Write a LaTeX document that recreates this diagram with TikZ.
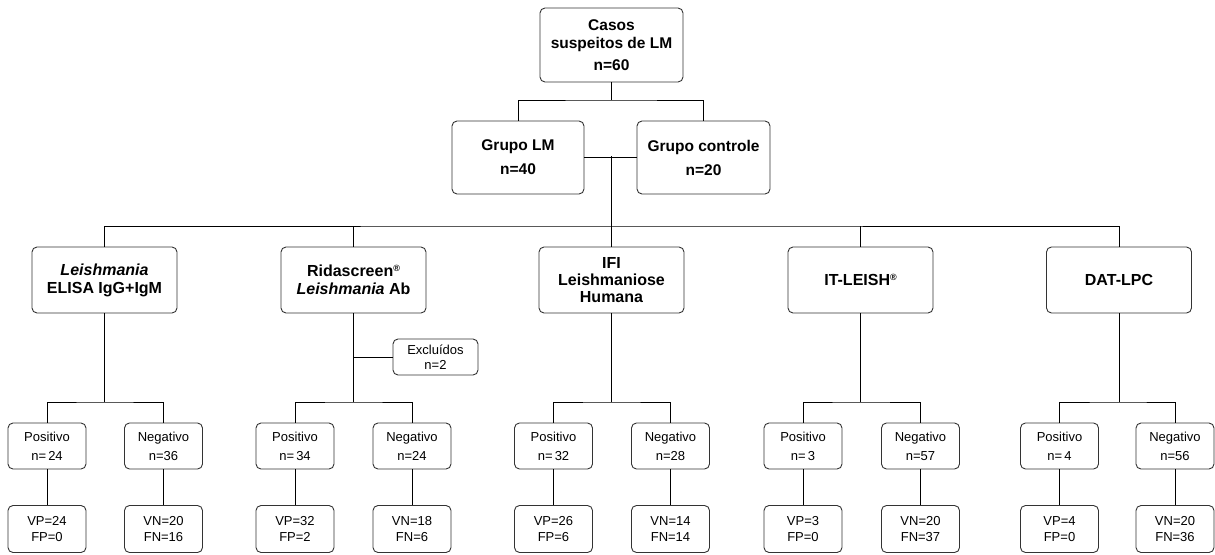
\documentclass[tikz,border=0pt]{standalone}
\usepackage{fontspec}
\setmainfont{Liberation Sans}
\newcommand{\regmark}{{\fontsize{9}{9}\selectfont\raisebox{5pt}{®}}}
\begin{document}
\begin{tikzpicture}[x=1pt,y=-1pt,
  box/.style={draw=black!80, line width=0.9pt, rounded corners=5pt, align=center, inner sep=0pt, fill=white},
  bigbox/.style={box, font=\fontsize{15.5}{18}\selectfont\bfseries},
  testbox/.style={box, minimum width=145pt, minimum height=66pt, font=\fontsize{16}{18}\selectfont\bfseries},
  resbox/.style={box, minimum width=78pt, minimum height=46pt, font=\fontsize{13}{16}\selectfont},
  exbox/.style={box, minimum width=85pt, minimum height=36pt, font=\fontsize{13}{15}\selectfont},
  line/.style={draw=black, line width=0.9pt}]
\useasboundingbox (0,0) rectangle (1215,554);

% top level
\node[bigbox, minimum width=143pt, minimum height=74pt] (top) at (611.5,45) {Casos\\suspeitos de LM\\[4pt]n=60};
\node[bigbox, minimum width=132pt, minimum height=73pt] (g1) at (518,157.5) {Grupo LM\\[6pt]n=40};
\node[bigbox, minimum width=133pt, minimum height=73pt] (g2) at (703.5,157.5) {Grupo controle\\[6pt]n=20};

\coordinate (b1) at (611.5,100);
\draw[line] (top.south) -- (b1);
\draw[line] (g1.north) |- (b1) -| (g2.north);

% tests
\node[testbox] (t1) at (104.5,280) {\textit{Leishmania}\\ELISA IgG+IgM};
\node[testbox] (t2) at (353.5,280) {Ridascreen\regmark\\\textit{Leishmania} Ab};
\node[testbox, font=\fontsize{16}{17}\selectfont\bfseries] (t3) at (611.5,280) {IFI\\Leishmaniose\\Humana};
\node[testbox] (t4) at (860.5,280) {IT-LEISH\regmark};
\node[testbox] (t5) at (1119,280) {DAT-LPC};

\coordinate (gm) at (611.5,156);
\draw[line] (g1.east) -- (g2.west);
\draw[line] (gm) -- (t3.north);
\coordinate (b2) at (611.5,226);
\draw[line] (t1.north) |- (b2) -| (t5.north);
\draw[line] (t2.north) -- (t2.north |- b2);
\draw[line] (t4.north) -- (t4.north |- b2);

% subtrees
\foreach \i/\tx/\px/\nx/\pn/\nn/\vp/\fp/\vn/\fn in {
  1/104.5/47/163.5/24/36/24/0/20/16,
  2/353.5/295/412/34/24/32/2/18/6,
  3/611.5/553.5/670.5/32/28/26/6/14/14,
  4/860.5/803/920.5/3/57/3/0/20/37,
  5/1119/1059.5/1175/4/56/4/0/20/36}{
  \node[resbox] (p\i) at (\px,446) {Positivo\\[3pt]n=\,\pn};
  \node[resbox] (n\i) at (\nx,446) {Negativo\\[3pt]n=\nn};
  \node[resbox, minimum height=47pt, font=\fontsize{13}{16}\selectfont] (vp\i) at (\px,529) {VP=\vp\\FP=\fp};
  \node[resbox, minimum height=47pt, font=\fontsize{13}{16}\selectfont] (vn\i) at (\nx,529) {VN=\vn\\FN=\fn};
  \coordinate (h\i) at (\tx,402);
  \draw[line] (t\i.south) -- (h\i);
  \draw[line] (p\i.north) |- (h\i) -| (n\i.north);
  \draw[line] (p\i.south) -- (vp\i.north);
  \draw[line] (n\i.south) -- (vn\i.north);
}

% excluded
\node[exbox] (ex) at (435.5,357) {Excluídos\\n=2};
\draw[line] (ex.west) -- (ex.west -| t2.south);
\end{tikzpicture}
\end{document}
